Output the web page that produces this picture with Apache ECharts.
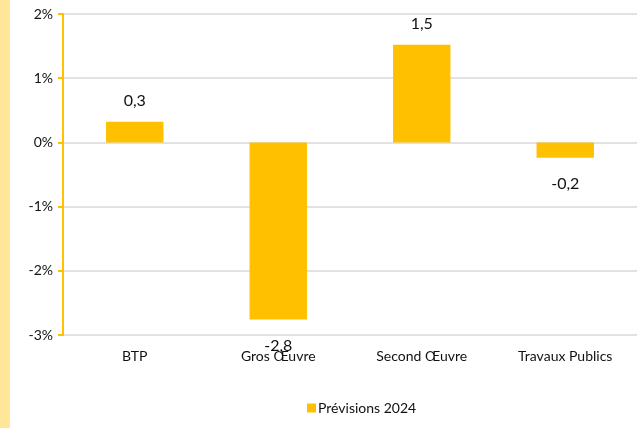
<!DOCTYPE html>
<html><head><meta charset="utf-8">
<script src="https://cdn.jsdelivr.net/npm/echarts@6/dist/echarts.min.js"></script>
<style>html,body{margin:0;padding:0;background:#fff}#c{width:640px;height:428px}</style>
</head><body><div id="c"></div>
<script>
const categories = ['BTP', 'Gros Œuvre', 'Second Œuvre', 'Travaux Publics'];
const values = [0.32, -2.76, 1.52, -0.24];
const seriesName = 'Prévisions 2024';
const yTicks = { min: -3, max: 2, interval: 1 };

const chart = echarts.init(document.getElementById('c'), null, { renderer: 'canvas' });
const fontFamily = 'Lato, "Open Sans", sans-serif';
chart.setOption({
  animation: false,
  textStyle: { fontFamily: fontFamily },
  graphic: [{ type: 'rect', left: 0, top: 0, shape: { width: 10, height: 428 }, style: { fill: '#FFE699' }, silent: true }],
  grid: { left: 63, right: 3, top: 14, bottom: 93, containLabel: false },
  legend: {
    data: [seriesName], left: 302, top: 396, icon: 'rect', itemWidth: 9, itemHeight: 9, itemGap: 4,
    textStyle: { fontSize: 14, color: '#111', fontFamily: fontFamily, padding: [0, 0, 0, -3] }
  },
  xAxis: {
    type: 'category', data: categories, position: 'bottom',
    axisLine: { show: false }, axisTick: { show: false },
    axisLabel: { color: '#111', fontSize: 14, margin: 14, fontFamily: fontFamily }
  },
  yAxis: {
    type: 'value', min: yTicks.min, max: yTicks.max, interval: yTicks.interval,
    axisLine: { show: true, lineStyle: { color: '#FFC000', width: 2 } },
    axisTick: { show: true, length: 5, lineStyle: { color: '#FFC000', width: 2 } },
    axisLabel: { formatter: '{value}%', color: '#111', fontSize: 14, margin: 10, fontFamily: fontFamily },
    splitLine: { show: true, lineStyle: { color: '#D9D9D9', width: 1.5 } }
  },
  series: [{
    name: seriesName, type: 'bar', barWidth: '40%',
    itemStyle: { color: '#FFC000' },
    data: values.map(v => ({
      value: v,
      label: { show: true, position: v >= 0 ? 'top' : 'bottom', distance: v >= 0 ? 13 : 18 }
    })),
    label: {
      color: '#111', fontSize: 16, fontFamily: fontFamily,
      formatter: p => p.value.toFixed(1).replace('.', ',')
    }
  }]
});
</script></body></html>
